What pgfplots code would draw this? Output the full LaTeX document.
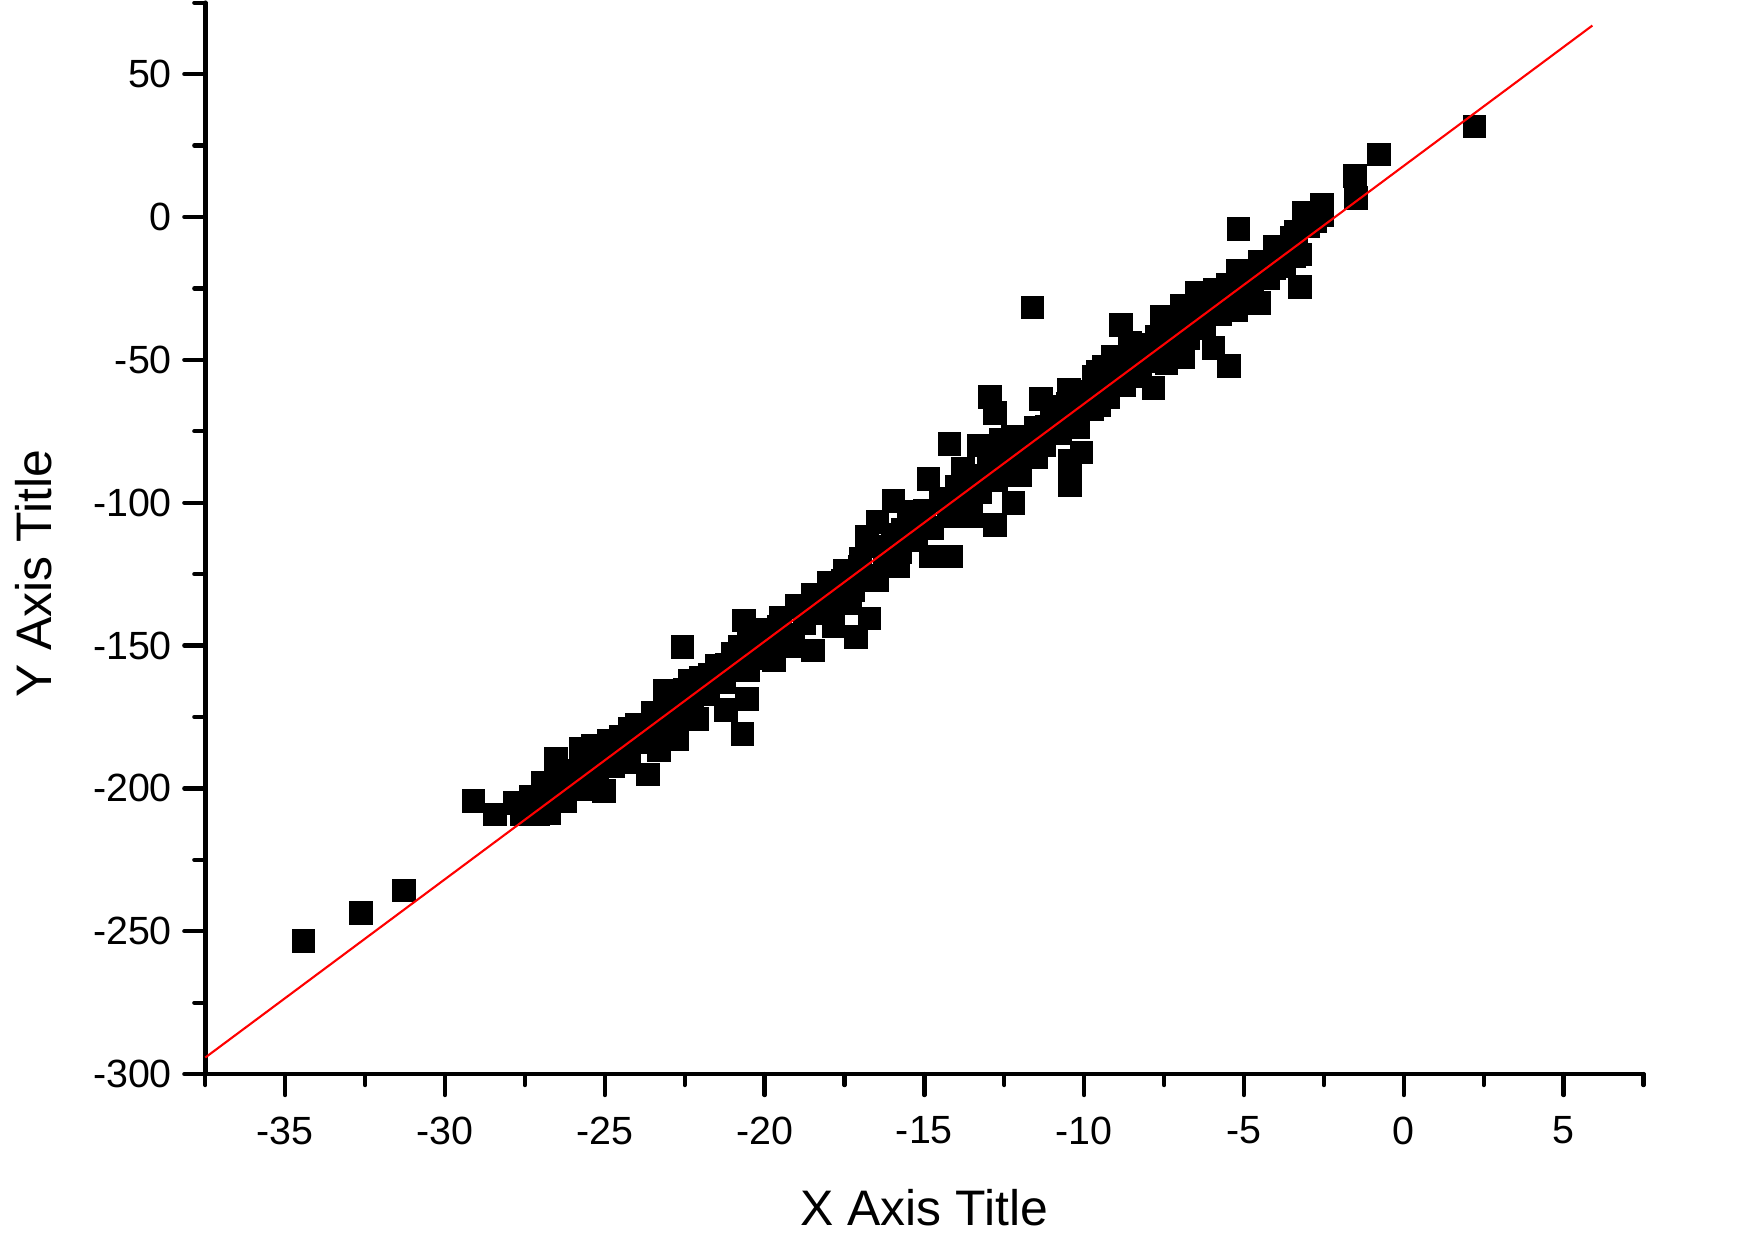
\documentclass[border=0pt]{standalone}
\usepackage{fontspec}
\setmainfont{Liberation Sans}
\usepackage{pgfplots}
\pgfplotsset{compat=1.18}
\usepackage{pgfplotstable}

% scatter points
\pgfplotstableread{
x y
-34.43 -253.5
-32.62 -243.7
-31.29 -235.8
-29.11 -204.5
-28.44 -209.1
-27.83 -205.2
-27.60 -209.1
-27.08 -209.1
-27.30 -203.0
-26.94 -198.2
-26.80 -201.0
-26.53 -189.8
-26.41 -198.2
-26.00 -194.0
-25.75 -186.3
-25.50 -192.0
-25.36 -185.2
-25.03 -200.9
-24.86 -183.4
-24.60 -187.0
-24.32 -190.9
-24.21 -179.3
-23.90 -182.0
-23.64 -195.1
-23.43 -173.5
-23.31 -186.8
-23.12 -165.9
-23.00 -178.0
-22.75 -182.7
-22.57 -150.6
-22.40 -170.0
-22.33 -162.4
-22.11 -175.7
-21.80 -166.0
-21.71 -160.1
-21.34 -157.2
-21.21 -172.6
-21.19 -156.6
-20.98 -153.1
-20.77 -150.4
-20.69 -181.0
-20.65 -141.2
-20.56 -168.7
-20.52 -158.6
-19.93 -149.2
-19.71 -155.3
-19.57 -143.4
-19.10 -150.4
-18.95 -136.5
-18.58 -138.7
-18.48 -151.8
-18.21 -135.2
-18.06 -135.2
-17.85 -143.4
-17.54 -127.2
-17.33 -135.2
-17.22 -130.6
-17.14 -147.1
-17.02 -122.4
-16.79 -112.1
-16.72 -140.5
-16.49 -127.3
-16.47 -106.8
-16.18 -115.4
-16.08 -121.9
-15.97 -99.5
-15.82 -122.2
-15.66 -109.6
-15.23 -103.3
-15.14 -107.2
-14.87 -91.6
-14.80 -118.9
-14.41 -99.1
-14.21 -79.5
-14.17 -118.9
-13.80 -88.0
-13.55 -104.7
-13.30 -80.0
-13.26 -92.1
-12.95 -63.0
-12.80 -68.5
-12.80 -107.9
-12.63 -85.1
-12.60 -78.0
-12.22 -76.9
-12.21 -100.2
-12.01 -90.3
-11.62 -31.7
-11.49 -83.9
-11.35 -63.6
-11.17 -73.4
-10.76 -66.4
-10.47 -60.6
-10.44 -85.5
-10.44 -93.8
-10.18 -73.4
-10.09 -82.4
-9.71 -55.9
-9.56 -54.1
-9.54 -65.8
-9.51 -60.6
-9.40 -52.4
-9.09 -48.9
-8.88 -53.6
-8.84 -37.9
-8.57 -44.2
-8.46 -55.7
-7.83 -59.9
-7.73 -41.9
-7.58 -35.0
-7.42 -51.2
-6.98 -38.4
-6.95 -31.2
-6.90 -48.9
-6.48 -26.5
-6.38 -39.0
-6.17 -32.6
-6.06 -33.7
-5.95 -45.9
-5.91 -25.6
-5.75 -26.7
-5.46 -52.2
-5.25 -32.6
-5.18 -18.8
-5.17 -4.3
-5.02 -20.9
-4.81 -20.9
-4.71 -18.8
-4.52 -30.2
-4.05 -18.0
-4.03 -10.4
-3.87 -12.7
-3.43 -13.8
-3.38 -5.3
-3.25 -24.6
-3.13 1.3
-3.04 -2.2
-2.78 -1.6
-2.55 4.4
-2.55 0.7
-1.53 14.4
-1.50 6.6
-0.77 21.9
2.21 31.7
}\scatterdata

% points hidden inside the dense band along the fit line
\pgfplotstableread{
x y
-27.00 -202.8
-26.75 -208.7
-26.50 -198.7
-26.25 -204.6
-26.00 -194.5
-25.75 -200.4
-25.50 -190.3
-25.25 -196.2
-25.00 -186.2
-24.75 -192.1
-24.50 -182.0
-24.25 -187.9
-24.00 -177.9
-23.75 -183.8
-23.50 -173.7
-23.25 -179.6
-23.00 -169.5
-22.75 -175.4
-22.50 -165.4
-22.25 -171.3
-22.00 -161.2
-21.75 -167.1
-21.50 -157.0
-21.25 -162.9
-21.00 -152.9
-20.75 -158.8
-20.50 -148.7
-20.25 -154.6
-20.00 -144.6
-19.75 -150.5
-19.50 -140.4
-19.25 -146.3
-19.00 -136.2
-18.75 -142.1
-18.50 -132.1
-18.25 -138.0
-18.00 -127.9
-17.75 -133.8
-17.50 -123.8
-17.25 -129.7
-17.00 -119.6
-16.75 -125.5
-16.50 -115.4
-16.25 -121.3
-16.00 -111.3
-15.75 -117.2
-15.50 -107.1
-15.25 -113.0
-15.00 -102.9
-14.75 -108.8
-14.50 -98.8
-14.25 -104.7
-14.00 -94.6
-13.75 -100.5
-13.50 -90.5
-13.25 -96.4
-13.00 -86.3
-12.75 -92.2
-12.50 -82.1
-12.25 -88.0
-12.00 -78.0
-11.75 -83.9
-11.50 -73.8
-11.25 -79.7
-11.00 -69.7
-10.75 -75.6
-10.50 -65.5
-10.25 -71.4
-10.00 -61.3
-9.75 -67.2
-9.50 -57.2
-9.25 -63.1
-9.00 -53.0
-8.75 -58.9
-8.50 -48.8
-8.25 -54.7
-8.00 -44.7
-7.75 -50.6
-7.50 -40.5
-7.25 -46.4
-7.00 -36.4
-6.75 -42.3
-6.50 -32.2
-6.25 -38.1
-6.00 -28.0
-5.75 -33.9
-5.50 -23.9
-5.25 -29.8
-5.00 -19.7
-4.75 -25.6
-4.50 -15.6
-4.25 -21.5
-4.00 -11.4
-3.75 -17.3
-3.50 -7.2
-3.25 -13.1
-3.00 -3.1
}\banddata

\begin{document}
\begin{tikzpicture}
\useasboundingbox (0,0) rectangle (17.54,12.40);
\begin{axis}[
  at={(2.053cm,1.659cm)}, anchor=south west,
  width=14.382cm, height=10.714cm, scale only axis,
  xmin=-37.5, xmax=7.5, ymin=-300, ymax=75,
  axis x line=bottom, axis y line=left,
  axis line style={-, line width=1.3pt, line cap=round},
  xtick={-35,-30,...,5}, ytick={-300,-250,...,50},
  minor xtick={-37.5,-32.5,...,7.5}, minor ytick={-275,-225,...,75},
  tick align=outside,
  major tick length=0.21cm, minor tick length=0.11cm,
  every tick/.style={black, line width=1.2pt, line cap=round},
  ticklabel style={font=\fontsize{11.2}{13}\selectfont},
  xticklabel style={yshift=-0.09cm},
  /pgf/number format/assume math mode=true,
  xlabel={X Axis Title}, ylabel={Y Axis Title},
  label style={font=\fontsize{14.2}{17}\selectfont},
  xlabel style={at={(axis description cs:0.5,-0.1409)}, anchor=base},
  ylabel style={at={(axis description cs:-0.1067,0.467)}, anchor=base},
  clip=false, clip marker paths=true,
]
\addplot[only marks, mark=square*, mark size=3.16pt, mark options={fill=black, draw=none}] table {\scatterdata};
\addplot[only marks, mark=square*, mark size=3.16pt, mark options={fill=black, draw=none}] table {\banddata};
\addplot[red, line width=0.6pt] coordinates {(-37.5,-294.2) (5.9,67.0)};
\end{axis}
\end{tikzpicture}
\end{document}
